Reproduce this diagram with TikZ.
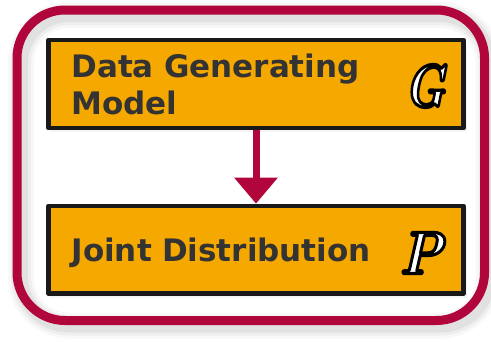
\documentclass[tikz,border=0pt]{standalone}
\usepackage{fontspec}
\setsansfont{DejaVu Sans}
\usetikzlibrary{arrows.meta, positioning}
\definecolor{crimson}{HTML}{B0063C}
\definecolor{boxfill}{HTML}{F5A800}
\definecolor{ink}{HTML}{333333}
% white letter, black outline
\newcommand\outlined[1]{{\color{white}%
  \special{pdf:literal direct 2 Tr 3.2 w 0 G}#1%
  \special{pdf:literal direct 0 Tr}}}

\begin{document}
\begin{tikzpicture}[
  x=1pt,
  y=-1pt,
  line cap=round,
  line join=round,
  box/.style={
    draw=black!90, line width=4.7pt, fill=boxfill,
    minimum width=415pt, minimum height=88pt,
    text width=369pt, align=left, inner sep=0pt,
    font=\sffamily\bfseries\fontsize{31}{37}\selectfont, text=ink
  },
  symb/.style={inner sep=0pt, font=\rmfamily\bfseries\itshape\fontsize{60}{60}\selectfont},
  link/.style={
    draw=crimson, line width=7pt, line cap=butt,
    -{Triangle[width=42pt,length=26pt]}
  }
]
  \useasboundingbox (0,0) rectangle (491,341);

  % Frame shadow
  \foreach \w/\o in {26/0.06, 20/0.08, 14/0.12} {
    \draw[gray, line width=\w pt, opacity=\o, rounded corners=48pt, shift={(4,5)}]
      (17,10) rectangle (484.5,320.5);
  }

  % Outer frame
  \draw[crimson, line width=9pt, rounded corners=48pt]
    (17,10) rectangle (484.5,320.5);

  % Box shadows
  \fill[gray, opacity=0.08] (50,42) rectangle (467,132);
  \fill[gray, opacity=0.08] (50,208) rectangle (467,297.5);

  % Boxes
  \node[box] (dgm) at (256,84) {Data Generating\\Model};
  \node[box, text depth=0pt, minimum height=87.5pt] (jd) at (256,249.75)
    {Joint Distribution};

  % Symbols
  \node[symb] (g) at (425,86) {\outlined{\scalebox{0.78}[1]{G}}};
  \node[symb] (p) at (421,253) {\outlined{\scalebox{0.92}[1]{P}}};

  % Generates
  \draw[link] (dgm.south) -- (jd.north);
\end{tikzpicture}
\end{document}
